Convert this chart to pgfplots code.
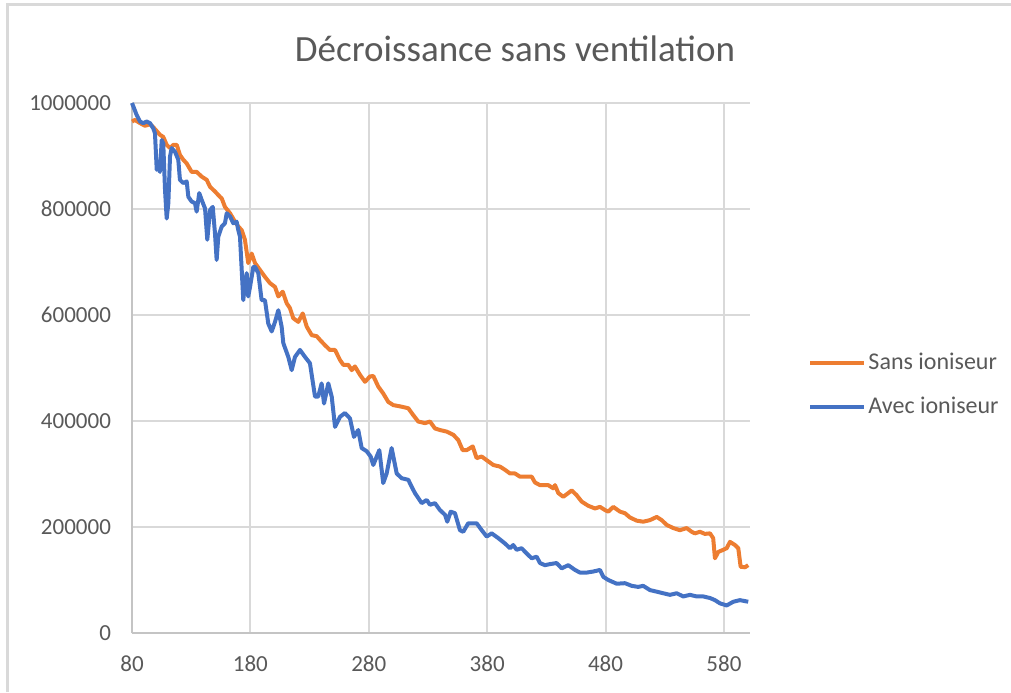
\documentclass[border=0pt]{standalone}
\usepackage{pgfplots}
\pgfplotsset{compat=1.18}
\usepackage{fontspec}
\setmainfont{Carlito}
\definecolor{orangeS}{HTML}{ED7D31}
\definecolor{blueA}{HTML}{4472C4}
\definecolor{txt}{HTML}{595959}
\definecolor{grd}{HTML}{D9D9D9}
\definecolor{axg}{HTML}{C4C4C4}
\begin{document}
\begin{tikzpicture}
\path[use as bounding box] (-66pt,-29.5pt) rectangle (439.5pt,316.5pt);
\draw[grd, line width=1.25pt] (-62.25pt,-29.5pt) -- (-62.25pt,314.25pt) -- (439.5pt,314.25pt);
\node[anchor=base, text=txt, font=\fontsize{18.5}{22}\selectfont] at (191.5pt,285.5pt) {Décroissance sans ventilation};
\begin{axis}[
  at={(0pt,0pt)}, anchor=south west,
  scale only axis, width=309pt, height=265pt,
  xmin=80, xmax=602, ymin=0, ymax=1000000,
  xtick={80,180,280,380,480,580},
  ytick={0,200000,400000,600000,800000,1000000},
  scaled ticks=false,
  /pgf/number format/assume math mode=true,
  yticklabel style={/pgf/number format/fixed,/pgf/number format/1000 sep={}},
  xticklabel style={/pgf/number format/1000 sep={}},
  tick label style={font=\fontsize{11.5}{13}\selectfont, text=txt},
  xticklabel shift=8pt, yticklabel shift=7pt,
  major tick length=0pt, tick style={draw=none},
  axis x line*=bottom, axis y line*=left,
  axis line style={-, draw=axg, line width=1pt},
  grid=major, major grid style={draw=grd, line width=1pt},
  clip=false,
  legend style={draw=none, fill=none, at={(1.094,0.468)}, anchor=west,
    font=\fontsize{12}{14}\selectfont, text=txt, inner sep=0pt, row sep=10.5pt,
    nodes={inner sep=1pt}},
  legend cell align=left,
  legend image code/.code={\draw[#1] (0pt,0pt) -- (27pt,0pt);},
]
\addplot[orangeS, line width=2pt, line join=round] coordinates {
(80,965000)(82.5,968000)(86.8,962000)(91,957000)(95.2,960000)(97.7,955000)(100.9,947000)(103.6,940000)(106.4,936000)(109.3,921000)(112.1,915000)(114.9,921000)(117.8,921000)(120.5,902000)(123.3,893000)(126.2,886000)(130.4,870000)(134.6,870000)(138.9,861000)(143.1,855000)(145.9,842000)(150.1,833000)(154.3,823000)(155.8,820000)(158.5,804000)(162.8,792000)(167,776000)(169.8,767000)(172.7,760000)(175.4,742000)(178.2,698000)(181.1,716000)(183.9,698000)(188.1,685000)(192.3,672000)(196.6,660000)(200.8,653000)(203.6,635000)(207.3,644000)(210.7,622000)(213.4,613000)(216.2,594000)(220.5,587000)(224.2,603000)(227.6,578000)(231.8,562000)(236,560000)(238.8,553000)(243,543000)(247.2,534000)(251.5,534000)(255.7,515000)(258.5,506000)(262.7,506000)(265.6,496000)(268.3,503000)(272.6,487000)(276.8,474000)(281,484000)(283.8,485000)(288,465000)(292.2,452000)(296.5,436000)(300.7,430000)(307.8,427000)(313.4,424000)(317.6,411000)(321.8,399000)(327.5,396000)(331.7,399000)(335.9,386000)(340.1,383000)(345.8,380000)(351.4,374000)(355.6,364000)(359.3,345000)(362.7,345000)(367.8,352000)(371.1,330000)(375.4,333000)(379.6,326000)(385.2,317000)(390.8,314000)(395,308000)(399.3,301000)(403.5,301000)(407.7,295000)(413.4,295000)(417.6,295000)(420.4,284000)(424.6,279000)(431.6,279000)(435.8,273000)(437.3,279000)(440.1,264000)(444.3,257000)(448.5,264000)(451.4,269000)(455.6,260000)(459.8,248000)(465.4,240000)(471.1,235000)(475.3,238000)(479.5,232000)(482.3,229000)(486.5,238000)(492.2,229000)(496.4,226000)(500.6,218000)(506.3,212000)(511.8,210000)(517.5,213000)(523.2,219000)(527.4,213000)(531.6,204000)(537.2,198000)(542.8,194000)(548.5,198000)(552.7,191000)(555.5,188000)(559.7,191000)(563.9,187000)(568.2,188000)(570.9,179000)(572.4,141000)(575.2,153000)(579.4,157000)(582.3,160000)(585.1,172000)(589.3,166000)(592.1,160000)(594.1,125000)(597.8,124000)(600.5,128000)
};
\addlegendentry{Sans ioniseur}
\addplot[blueA, line width=2pt, line join=round] coordinates {
(80,1000000)(84,977000)(86.8,965000)(89.5,962000)(92.4,965000)(95.2,962000)(98,952000)(99.4,943000)(100.9,874000)(102.2,880000)(103.6,870000)(105.1,930000)(106.4,924000)(107.9,836000)(109.3,782000)(110.7,811000)(112.1,899000)(113.5,915000)(116.3,908000)(119.1,893000)(120.5,855000)(123.3,849000)(126.2,852000)(127.6,823000)(130.4,814000)(133.2,811000)(134.6,795000)(136.8,830000)(138.9,817000)(141.7,801000)(143.6,742000)(145.9,798000)(148.2,804000)(150.1,754000)(151.5,704000)(152.9,748000)(155.8,767000)(158.5,773000)(160,792000)(162.8,786000)(165.6,773000)(168.4,776000)(169.8,760000)(171.2,748000)(174,628000)(175.4,660000)(176.9,679000)(178.2,635000)(179.7,653000)(181.1,672000)(182.5,691000)(183.9,691000)(186.7,679000)(189.5,628000)(192.3,628000)(195.1,584000)(198,569000)(200.8,587000)(203.6,609000)(206.4,578000)(207.8,547000)(212,521000)(214.9,496000)(217.7,521000)(221.9,534000)(226.1,521000)(230.3,509000)(234.6,446000)(237.3,446000)(240.2,471000)(242.2,433000)(245.8,471000)(248.7,446000)(251.5,389000)(255.7,408000)(259.9,415000)(264.1,405000)(267.5,370000)(271.1,383000)(274,349000)(278.2,343000)(281.6,333000)(283.8,317000)(288.9,345000)(292.2,283000)(295.1,301000)(299.3,349000)(303.6,301000)(307.8,292000)(313.4,289000)(316.2,276000)(319,264000)(324.7,245000)(328.9,251000)(331.7,242000)(335.9,245000)(340.1,232000)(344.4,223000)(346.3,210000)(349.2,229000)(352.8,226000)(357,194000)(359.8,191000)(364,207000)(371.1,207000)(375.4,194000)(379.6,182000)(383.8,188000)(389.4,179000)(395,169000)(399.3,160000)(402,166000)(404.9,157000)(409.1,160000)(413.4,150000)(417.6,141000)(421.8,144000)(424.6,132000)(428.8,128000)(433,130000)(438.7,132000)(442.9,122000)(448.5,128000)(454.2,119000)(458.4,114000)(464,114000)(469.6,116000)(475.3,119000)(478.1,106000)(482.3,100000)(489.4,93000)(496.4,94000)(502,89000)(507.6,87000)(511.8,89000)(517.5,81000)(523.2,78000)(528.7,75000)(534.4,72000)(540.1,75000)(545.6,69000)(551.3,72000)(556.9,69000)(562.5,69000)(568.2,66000)(572.4,62000)(576.6,56000)(582.3,52000)(587.9,59000)(593.5,62000)(600.5,59000)
};
\addlegendentry{Avec ioniseur}
\end{axis}
\end{tikzpicture}
\end{document}
